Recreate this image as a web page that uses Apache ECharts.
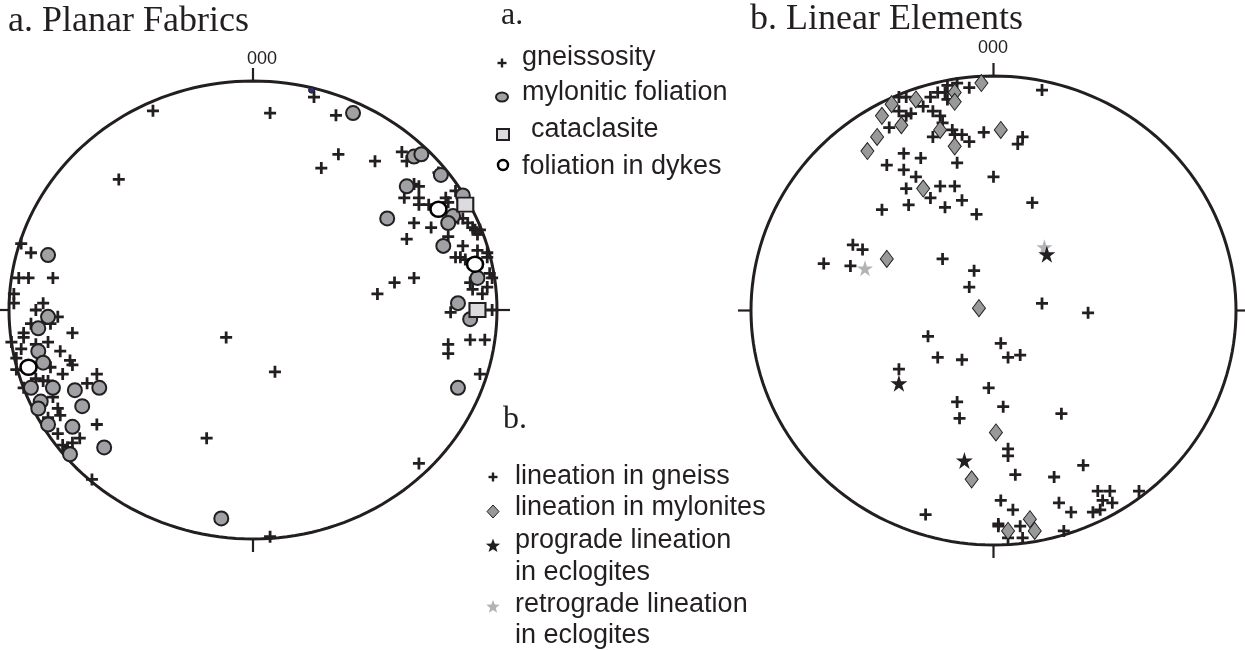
<!DOCTYPE html>
<html lang="en">
<head>
<meta charset="UTF-8">
<title>Planar Fabrics / Linear Elements</title>
<script src="https://cdn.jsdelivr.net/npm/echarts@6/dist/echarts.min.js"></script>
<style>
  html, body { margin: 0; padding: 0; background: #fff; }
  #chart { width: 1245px; height: 650px; }
</style>
</head>
<body>
<div id="chart"></div>
<script>
// values are stereonet positions in percent of the net radius: [east, north]
var gneissosity = [[-41,87],[-55,57],[-95,29],[-91,25],[-96,14],[-92,14],[-82,14],[-98,7],[-98,3],[-86,3],
  [-89,0],[-80,-3],[-91,-6],[-83,-6],[-94,-10],[-94,-12],[-99,-14],[-74,-10],[-89,-15],[-84,-14],
  [-95,-17],[-79,-18],[-75,-22],[-74,-24],[-97,-21],[-97,-26],[-83,-25],[-78,-28],[-89,-30],[-86,-31],
  [-84,-31],[-94,-34],[-68,-32],[-64,-28],[-82,-38],[-80,-43],[-79,-46],[-84,-47],[-64,-50],[-80,-54],
  [-71,-56],[-74,-58],[-76,-60],[-78,-59],[-11,-12],[-19,-56],[-66,-74],[7,-99],[9,-27],[68,-67],
  [93,-28],[80,-15],[80,-19],[89,-13],[95,-13],[81,-1],[98,0],[25,93],[7,86],[34,85],
  [35,68],[28,62],[50,65],[61,69],[63,65],[76,60],[66,55],[68,54],[62,49],[68,49],
  [68,46],[72,46],[79,49],[80,47],[83,52],[66,38],[73,36],[63,31],[84,40],[86,40],
  [88,38],[90,36],[91,35],[93,35],[92,33],[80,32],[86,28],[83,23],[85,23],[87,22],
  [92,26],[96,25],[96,23],[97,16],[98,14],[89,12],[90,9],[94,7],[96,10],[58,12],
  [66,14],[51,7]];
var mylonitic = [[-84,24],[-84,-3],[-88,-8],[-88,-18],[-86,-23],[-91,-34],[-82,-34],[-73,-35],[-63,-34],[-87,-40],
  [-88,-43],[-70,-42],[-84,-50],[-74,-51],[-61,-60],[-75,-63],[-13,-91],[41,86],[66,67],[69,68],
  [77,59],[63,54],[86,50],[55,40],[82,41],[80,38],[78,28],[92,14],[84,3],[89,-4],[84,-34]];
var mylToneDark = [[24,96]];
var cataclasite = [[87,46],[92,0]];
var dykeFoliation = [[-92,-25],[76,44],[91,20]];

var linGneiss = [[-19,96],[-15,97],[-10,95],[-23,93],[-26,91],[-20,93],[-19,90],[-36,91],[-39,91],[-39,85],
  [-36,83],[-34,84],[-29,87],[-25,85],[-22,83],[-21,80],[-43,78],[-17,77],[-16,75],[-13,75],
  [-10,72],[-25,74],[-4,76],[-37,67],[-30,65],[-15,63],[-44,62],[-37,60],[-32,57],[-22,53],
  [-16,53],[-36,52],[-35,45],[-26,48],[-20,44],[-13,47],[-7,41],[-46,43],[0,57],[-58,28],
  [-54,26],[-70,20],[-59,19],[-21,22],[-8,17],[-10,10],[20,94],[12,74],[10,71],[16,46],
  [20,3],[39,-1],[-27,-11],[-23,-20],[-13,-21],[-39,-25],[-2,-33],[-15,-39],[-14,-46],[-28,-87],
  [3,-14],[6,-20],[11,-19],[4,-41],[28,-44],[6,-59],[6,-62],[9,-70],[25,-71],[37,-66],
  [43,-77],[48,-77],[45,-81],[49,-82],[44,-85],[41,-86],[60,-77],[3,-81],[8,-85],[27,-82],
  [32,-86],[2,-91],[2,-92],[11,-92],[12,-97],[6,-97],[29,-94]];
var linMylonite = [[-5,97],[-16,93],[-16,89],[-32,90],[-42,88],[-46,83],[-38,79],[-48,74],[-52,68],[-22,77],
  [-16,70],[-29,52],[-44,22],[3,77],[-6,1],[1,-52],[-9,-72],[6,-94],[15,-89],[17,-94]];
var progradeLin = [[22,24],[-39,-31],[-12,-64]];
var retrogradeLin = [[-53,18],[21,27]];

var legendA = ['gneissosity', 'mylonitic foliation', 'cataclasite', 'foliation in dykes'];
var legendB = ['lineation in gneiss', 'lineation in mylonites', 'prograde lineation', 'in eclogites',
  'retrograde lineation', 'in eclogites'];

var INK = '#231f20';
var PLUS = 'path://M3.85,0H6.15V3.85H10V6.15H6.15V10H3.85V6.15H0V3.85H3.85Z';
var STAR = 'path://M50,0L61.2,34.5L97.6,34.5L68.2,55.9L79.4,90.5L50,69.1L20.6,90.5L31.8,55.9L2.4,34.5L38.8,34.5Z';

var myChart = echarts.init(document.getElementById('chart'));

function netFrame(gi) {
  return {
    type: 'custom', xAxisIndex: gi, yAxisIndex: gi, data: [[0, 0]], silent: true, z: 1,
    renderItem: function (params, api) {
      var pts = [];
      for (var a = 0; a <= 360; a += 2) {
        var r = a * Math.PI / 180;
        pts.push(api.coord([100 * Math.cos(r), 100 * Math.sin(r)]));
      }
      var n = api.coord([0, 100]), s = api.coord([0, -100]);
      var w = api.coord([-100, 0]), e = api.coord([100, 0]);
      var ls = { stroke: INK, lineWidth: 2.2 };
      return {
        type: 'group', children: [
          { type: 'polyline', shape: { points: pts }, style: { stroke: INK, lineWidth: 3, fill: null } },
          { type: 'line', shape: { x1: n[0], y1: n[1], x2: n[0], y2: n[1] - 13 }, style: ls },
          { type: 'line', shape: { x1: s[0], y1: s[1], x2: s[0], y2: s[1] + 13 }, style: ls },
          { type: 'line', shape: { x1: w[0], y1: w[1], x2: w[0] - 13, y2: w[1] }, style: ls },
          { type: 'line', shape: { x1: e[0], y1: e[1], x2: e[0] + 13, y2: e[1] }, style: ls }
        ]
      };
    }
  };
}

function pts(name, gi, data, symbol, size, style, z) {
  style.opacity = 1;
  return {
    name: name, type: 'scatter', xAxisIndex: gi, yAxisIndex: gi, data: data, clip: false,
    symbol: symbol, symbolSize: size, itemStyle: style, z: z, silent: true
  };
}

function axis(gi) {
  return { type: 'value', gridIndex: gi, min: -100, max: 100, show: false };
}

function starPoints(cx, cy, r) {
  var out = [];
  for (var i = 0; i < 10; i++) {
    var rr = i % 2 ? r * 0.42 : r;
    var a = -Math.PI / 2 + i * Math.PI / 5;
    out.push([cx + rr * Math.cos(a), cy + rr * Math.sin(a)]);
  }
  return out;
}

var sans = '"Liberation Sans", Arial, sans-serif';
var serif = '"Liberation Serif", "Times New Roman", serif';

function label(text, x, y, size, family) {
  return { type: 'text', x: x, y: y, style: { text: text, font: size + 'px ' + family, fill: INK, verticalAlign: 'middle', align: 'left' } };
}
function plus(cx, cy, s) {
  return [
    { type: 'rect', shape: { x: cx - s / 2, y: cy - 1.2, width: s, height: 2.4 }, style: { fill: INK } },
    { type: 'rect', shape: { x: cx - 1.2, y: cy - s / 2, width: 2.4, height: s }, style: { fill: INK } }
  ];
}

var graphics = [
  label('a. Planar Fabrics', 8, 22, 36, serif),
  label('b. Linear Elements', 750, 20, 36, serif),
  label('000', 247, 59, 18, sans),
  label('000', 978, 48, 18, sans),
  label('a.', 501, 16, 32, serif),
  label('b.', 503, 420, 32, serif),
  label(legendA[0], 522, 58, 27, sans),
  label(legendA[1], 522, 93, 27, sans),
  label(legendA[2], 531, 130, 27, sans),
  label(legendA[3], 522, 167, 27, sans),
  { type: 'ellipse', shape: { cx: 502, cy: 97, rx: 6, ry: 4.5 }, style: { fill: '#a0a1a4', stroke: INK, lineWidth: 2 } },
  { type: 'rect', shape: { x: 497, y: 129, width: 12, height: 11 }, style: { fill: '#dcdcde', stroke: INK, lineWidth: 2 } },
  { type: 'circle', shape: { cx: 503, cy: 165, r: 5 }, style: { fill: '#fff', stroke: '#000', lineWidth: 2.5 } },
  { type: 'polygon', shape: { points: [[493, 505], [499, 511.5], [493, 518], [487, 511.5]] }, style: { fill: '#98999b', stroke: INK, lineWidth: 1 } },
  { type: 'polygon', shape: { points: starPoints(493, 546, 7.5) }, style: { fill: INK } },
  { type: 'polygon', shape: { points: starPoints(493, 607, 7) }, style: { fill: '#b1b3b6' } }
].concat(plus(502, 63, 9)).concat(plus(493, 477, 9));
for (var i = 0; i < legendB.length; i++) {
  graphics.push(label(legendB[i], 515, [477, 508, 541, 573, 605, 636][i], 27, sans));
}

var option = {
  animation: false,
  backgroundColor: '#fff',
  grid: [
    { left: 9, top: 81, width: 488, height: 458 },
    { left: 751, top: 76, width: 485, height: 469 }
  ],
  xAxis: [axis(0), axis(1)],
  yAxis: [axis(0), axis(1)],
  graphic: graphics,
  series: [
    netFrame(0),
    netFrame(1),
    pts('gneissosity', 0, gneissosity, PLUS, 12, { color: INK }, 3),
    pts('mylonitic foliation', 0, mylonitic, 'circle', 14, { color: '#a0a1a4', borderColor: INK, borderWidth: 2 }, 4),
    pts('mylonitic (dark)', 0, mylToneDark, 'circle', 6, { color: '#2b2f6b', borderColor: INK, borderWidth: 1 }, 4),
    pts('cataclasite', 0, cataclasite, 'rect', [16, 14], { color: '#dcdcde', borderColor: INK, borderWidth: 2 }, 5),
    pts('foliation in dykes', 0, dykeFoliation, 'circle', [16, 15], { color: '#fff', borderColor: '#000', borderWidth: 2.5 }, 5),
    pts('lineation in gneiss', 1, linGneiss, PLUS, 12, { color: INK }, 3),
    pts('lineation in mylonites', 1, linMylonite, 'diamond', [13, 17], { color: '#98999b', borderColor: INK, borderWidth: 1 }, 4),
    pts('retrograde lineation in eclogites', 1, retrogradeLin, STAR, 16, { color: '#b1b3b6' }, 5),
    pts('prograde lineation in eclogites', 1, progradeLin, STAR, 17, { color: INK }, 6)
  ]
};
myChart.setOption(option);
</script>
</body>
</html>
